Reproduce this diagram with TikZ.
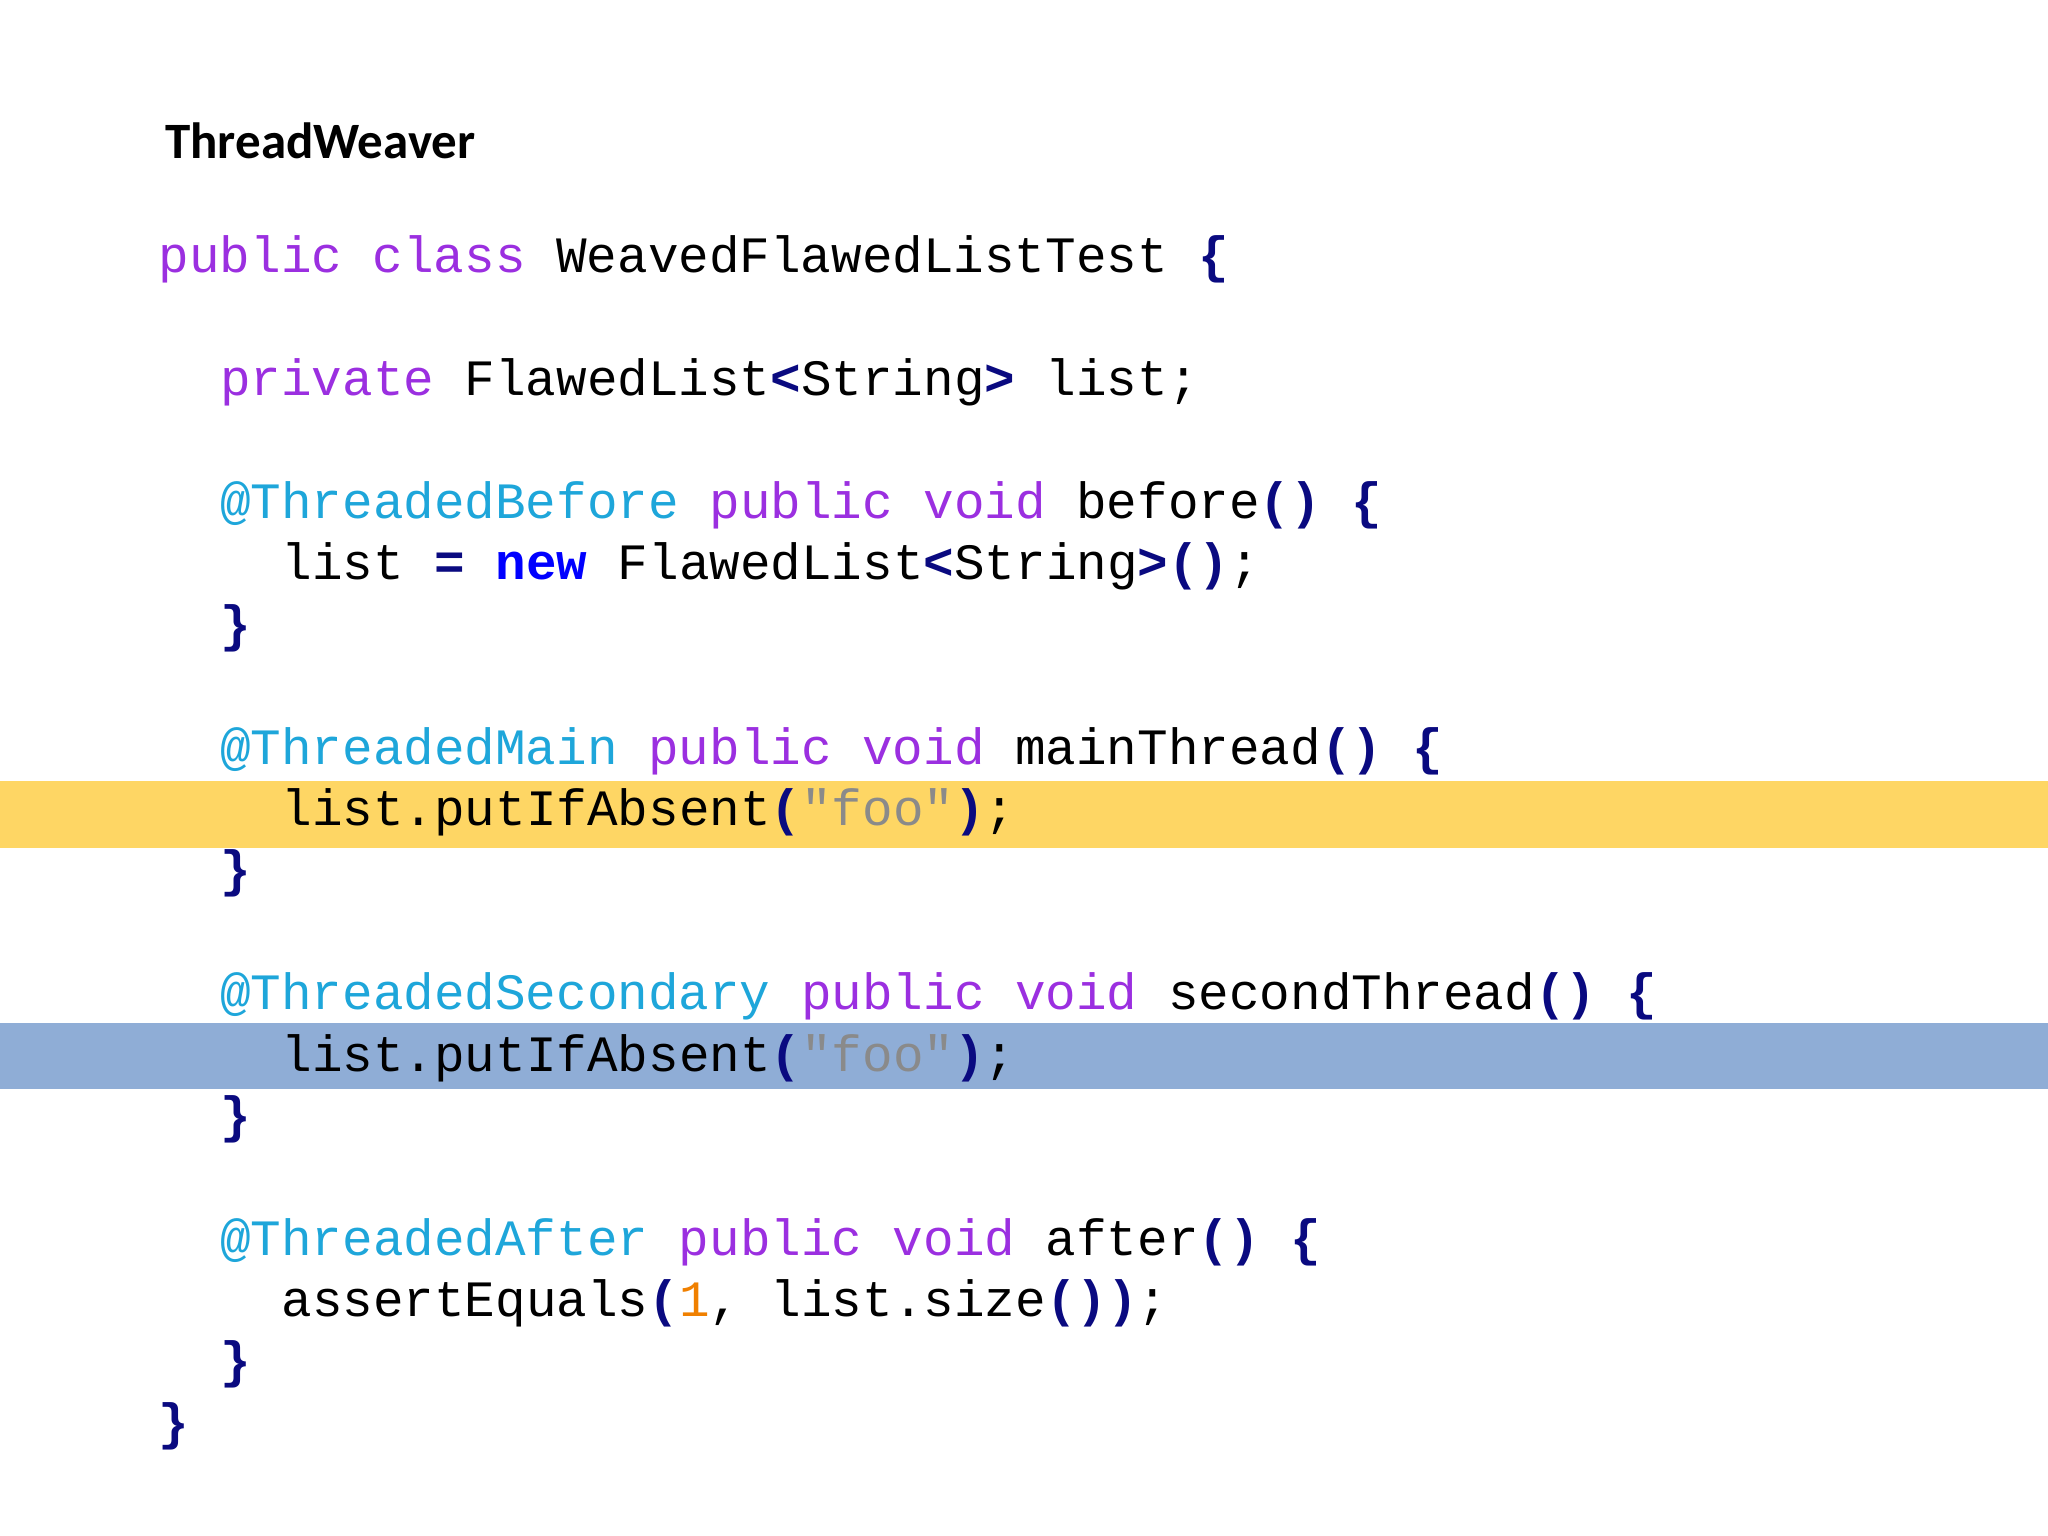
\documentclass[tikz,border=0pt]{standalone}
\usepackage{fontspec}
\setmonofont{Liberation Mono}
\newfontfamily\titlefont{Carlito}
\definecolor{kw}{HTML}{9B2FE0}
\definecolor{ann}{HTML}{1EA6DA}
\definecolor{op}{HTML}{0A0A80}
\definecolor{nw}{HTML}{0000FF}
\definecolor{str}{HTML}{8A8A8A}
\definecolor{num}{HTML}{F08000}
\definecolor{hy}{HTML}{FED664}
\definecolor{hb}{HTML}{8FADD6}
\newcommand{\K}[1]{\textcolor{kw}{#1}}
\newcommand{\A}[1]{\textcolor{ann}{#1}}
\newcommand{\OP}[1]{\textcolor{op}{\bfseries #1}}
\newcommand{\NW}[1]{\textcolor{nw}{\bfseries #1}}
\newcommand{\ST}[1]{\textcolor{str}{#1}}
\newcommand{\NM}[1]{\textcolor{num}{#1}}
\begin{document}
\begin{tikzpicture}[x=0.01306cm,y=-0.01306cm,
  code/.style={anchor=base west,inner sep=0pt,font=\fontsize{14.5}{17}\ttfamily,text=black}]
\useasboundingbox (0,0) rectangle (1568,1176);
\fill[white] (0,0) rectangle (1568,1176);
\fill[hy] (0,598) rectangle (1568,649);
\fill[hb] (0,783) rectangle (1568,834);
\node[anchor=base west,inner sep=0pt,font=\fontsize{14.5}{17}\titlefont\bfseries] (title) at (126,121) {ThreadWeaver};
\node[code] (l0) at (121,209) {\K{public}\ \K{class}\ WeavedFlawedListTest\ \OP{\{}};
\node[code] (l2) at (168,303) {\K{private}\ FlawedList\OP{<}String\OP{>}\ list;};
\node[code] (l4) at (168,397) {\A{@ThreadedBefore}\ \K{public}\ \K{void}\ before\OP{()}\ \OP{\{}};
\node[code] (l5) at (215,444) {list\ \OP{=}\ \NW{new}\ FlawedList\OP{<}String\OP{>()};};
\node[code] (l6) at (168,491) {\OP{\}}};
\node[code] (l8) at (168,585) {\A{@ThreadedMain}\ \K{public}\ \K{void}\ mainThread\OP{()}\ \OP{\{}};
\node[code] (l9) at (215,632) {list.putIfAbsent\OP{(}\ST{"foo"}\OP{)};};
\node[code] (l10) at (168,679) {\OP{\}}};
\node[code] (l12) at (168,773) {\A{@ThreadedSecondary}\ \K{public}\ \K{void}\ secondThread\OP{()}\ \OP{\{}};
\node[code] (l13) at (215,820) {list.putIfAbsent\OP{(}\ST{"foo"}\OP{)};};
\node[code] (l14) at (168,867) {\OP{\}}};
\node[code] (l16) at (168,961) {\A{@ThreadedAfter}\ \K{public}\ \K{void}\ after\OP{()}\ \OP{\{}};
\node[code] (l17) at (215,1008) {assertEquals\OP{(}\NM{1}, list.size\OP{())};};
\node[code] (l18) at (168,1055) {\OP{\}}};
\node[code] (l19) at (121,1102) {\OP{\}}};
\end{tikzpicture}
\end{document}
